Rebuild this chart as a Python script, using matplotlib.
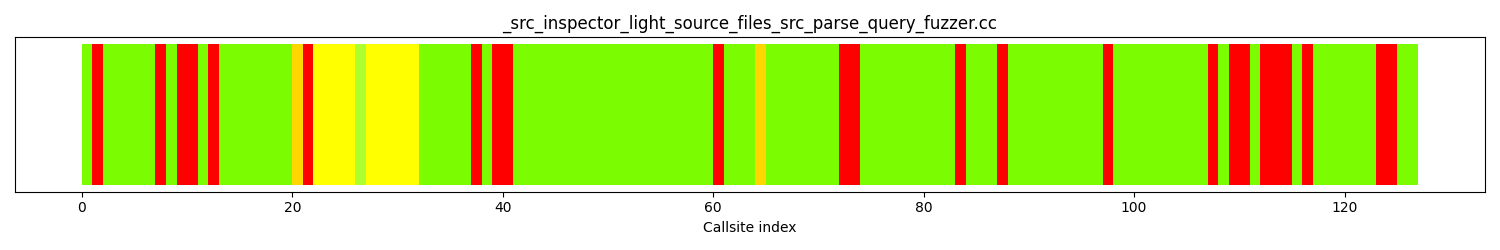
#!/usr/bin/env python3

"""Calltree overview bar: one coloured bar per callsite."""

import matplotlib
matplotlib.use("Agg")
import matplotlib.pyplot as plt

# * Data

TITLE = "_src_inspector_light_source_files_src_parse_query_fuzzer.cc"

# Hit level of each callsite.
# 0 = no hits, 1 = one, 2 = few, 3 = some, 4 = many.
levels = [
    4, 0, 4, 4, 4, 4, 4, 0, 4, 0,
    0, 4, 0, 4, 4, 4, 4, 4, 4, 4,
    1, 0, 2, 2, 2, 2, 3, 2, 2, 2,
    2, 2, 4, 4, 4, 4, 4, 0, 4, 0,
    0, 4, 4, 4, 4, 4, 4, 4, 4, 4,
    4, 4, 4, 4, 4, 4, 4, 4, 4, 4,
    0, 4, 4, 4, 1, 4, 4, 4, 4, 4,
    4, 4, 0, 0, 4, 4, 4, 4, 4, 4,
    4, 4, 4, 0, 4, 4, 4, 0, 4, 4,
    4, 4, 4, 4, 4, 4, 4, 0, 4, 4,
    4, 4, 4, 4, 4, 4, 4, 0, 4, 0,
    0, 4, 0, 0, 0, 4, 0, 4, 4, 4,
    4, 4, 4, 0, 0, 4, 4,
]

# Colour for each hit level.
level_colors = {0: "red", 1: "gold", 2: "yellow", 3: "greenyellow", 4: "lawngreen"}

# * Plot

x = list(range(len(levels)))
colors = [level_colors[lv] for lv in levels]

fig, ax = plt.subplots(figsize=(15, 2.5), dpi=100)
ax.bar(x, [1] * len(levels), width=1, align="edge", color=colors)
# Leave a margin under the bars as well as above them.
ax.use_sticky_edges = False
ax.autoscale_view()
ax.set_yticks([])
ax.set_xlabel("Callsite index")
ax.set_title(TITLE)
fig.tight_layout()
fig.savefig("out.png")
